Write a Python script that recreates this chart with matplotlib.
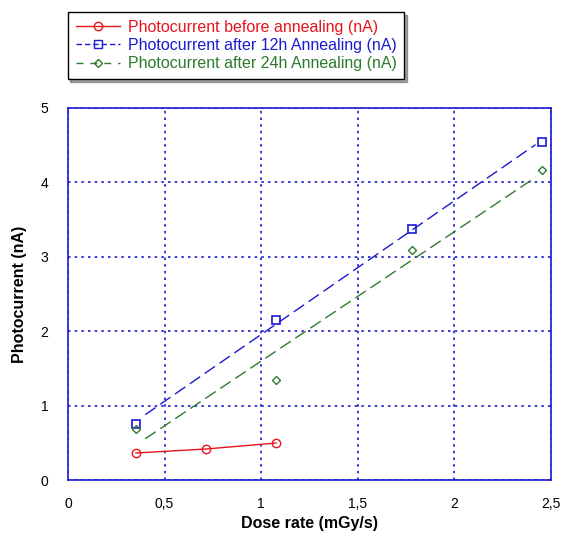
import numpy as np
from matplotlib import pyplot as plt
from matplotlib.lines import Line2D
from matplotlib.ticker import FuncFormatter

plt.rcParams['font.family'] = ['Liberation Sans', 'DejaVu Sans']

dose_before = [0.352, 0.714, 1.077]
pc_before = [0.363, 0.417, 0.497]
dose_after = [0.352, 1.077, 1.78, 2.453]
pc_12h = [0.753, 2.15, 3.37, 4.54]
pc_24h = [0.686, 1.34, 3.09, 4.17]

red = '#e8141c'
blue = '#1a1ad0'
green = '#2e7a2e'

fig = plt.figure(figsize=(5.63, 5.37), dpi=100)
ax = fig.add_axes([0.1208, 0.1061, 0.8579, 0.6928])

ax.plot(dose_before, pc_before, color=red, lw=1, marker='o', ms=6, mfc='none', mec=red)

# linear fits for the annealed series
xs = np.array([0.40, 2.42])
for y, c in [(pc_12h, blue), (pc_24h, green)]:
    k, b = np.polyfit(dose_after, y, 1)
    ax.plot(xs, k * xs + b, color=c, lw=1, dashes=(9, 4))
ax.plot(dose_after, pc_12h, ls='none', marker='s', ms=6, mfc='none', mec=blue, mew=1.2)
ax.plot(dose_after, pc_24h, ls='none', marker='D', ms=4.5, mfc='none', mec=green, mew=1)

ax.set_xlim(0, 2.5)
ax.set_ylim(0, 5)
ax.set_xticks([0, 0.5, 1, 1.5, 2, 2.5])
ax.set_yticks([0, 1, 2, 3, 4, 5])
ax.xaxis.set_major_formatter(FuncFormatter(lambda v, p: ('%g' % v).replace('.', ',')))
ax.grid(True, color=blue, ls=(0, (1.5, 2.5)), lw=1.2)
ax.tick_params(length=0, labelsize=10, pad=12)
ax.tick_params(axis='y', pad=14)
for s in ax.spines.values():
    s.set_color(blue)
    s.set_linewidth(1.2)

ax.set_xlabel('Dose rate (mGy/s)', fontsize=11.5, fontweight='bold', labelpad=4)
ax.set_ylabel('Photocurrent (nA)', fontsize=11.5, fontweight='bold', labelpad=10)

handles = [
    Line2D([], [], color=red, lw=1, marker='o', mfc='none', ms=6),
    Line2D([], [], color=blue, lw=1, dashes=(4, 2), marker='s', mfc='none', ms=6),
    Line2D([], [], color=green, lw=1, dashes=(5, 5), marker='D', mfc='none', ms=4.5),
]
labels = ['Photocurrent before annealing (nA)',
          'Photocurrent after 12h Annealing (nA)',
          'Photocurrent after 24h Annealing (nA)']
leg = fig.legend(handles, labels, loc='upper left', bbox_to_anchor=(0.106, 0.993),
                 fancybox=False, shadow=True, edgecolor='black', framealpha=1,
                 fontsize=11.5, handlelength=2.8, labelspacing=0.2, borderpad=0.5,
                 handletextpad=0.45)
for t, c in zip(leg.get_texts(), [red, blue, green]):
    t.set_color(c)

fig.savefig('out.png')
